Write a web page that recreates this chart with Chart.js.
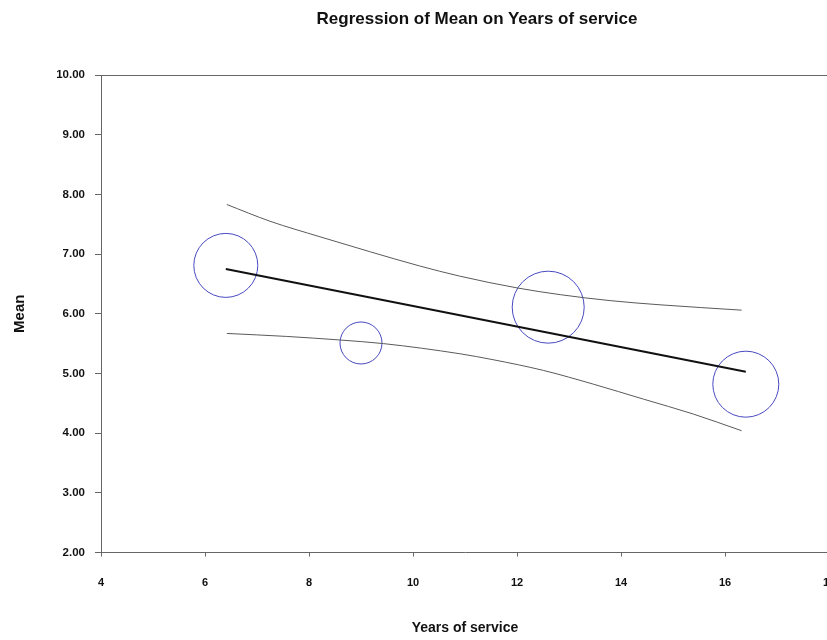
<!DOCTYPE html>
<html>
<head>
<meta charset="utf-8">
<script src="https://cdn.jsdelivr.net/npm/chart.js@4/dist/chart.umd.min.js"></script>
<style>
  html, body { margin: 0; padding: 0; background: #ffffff; overflow: hidden; width: 827px; height: 640px; }
  #wrap { position: relative; width: 827px; height: 640px; overflow: hidden; }
  #title { position: absolute; left: 0; width: 954px; top: 9px; text-align: center;
           font: bold 17px "Liberation Sans", Arial, sans-serif; color: #111; white-space: nowrap; }
  canvas { position: absolute; left: 0; top: 0; }
</style>
</head>
<body>
<div id="wrap">
  <canvas id="c" width="866" height="640" style="width:866px;height:640px"></canvas>
  <div id="title">Regression of Mean on Years of service</div>
</div>
<script>
// ---- data ----
const pointYears = [6.4, 9.0, 12.6, 16.4];
const pointMeans = [6.81, 5.51, 6.11, 4.82];
const pointSizes = [32, 21, 36, 33];

const fitYears = [6.4, 16.4];
const fitMeans = [6.75, 5.03];

const upperYears = [6.42, 7.25, 8.21, 9.17, 10.13, 10.90, 12.02, 12.83, 13.79, 14.75, 16.32];
const upperMeans = [7.83, 7.55, 7.29, 7.04, 6.80, 6.63, 6.43, 6.32, 6.22, 6.15, 6.06];

const lowerYears = [6.42, 7.57, 8.60, 9.43, 10.90, 11.54, 12.51, 13.47, 14.43, 15.39, 16.32];
const lowerMeans = [5.67, 5.62, 5.56, 5.50, 5.33, 5.23, 5.05, 4.82, 4.57, 4.32, 4.04];

const xTicks = [4, 6, 8, 10, 12, 14, 16, 18];
const yTicks = [2, 3, 4, 5, 6, 7, 8, 9, 10];

const xyPairs = (xs, ys) => xs.map((x, i) => ({ x: x, y: ys[i] }));

const FONT = '"Liberation Sans", Arial, sans-serif';

const topBorder = {
  id: 'topBorder',
  afterDraw(chart) {
    const { ctx, chartArea } = chart;
    ctx.save();
    ctx.strokeStyle = '#666666';
    ctx.lineWidth = 1;
    ctx.beginPath();
    ctx.moveTo(chartArea.left, Math.round(chartArea.top) + 0.5);
    ctx.lineTo(chartArea.right, Math.round(chartArea.top) + 0.5);
    ctx.stroke();
    ctx.restore();
  }
};

new Chart(document.getElementById('c'), {
  type: 'bubble',
  data: {
    datasets: [
      {
        type: 'line',
        data: xyPairs(upperYears, upperMeans),
        borderColor: '#5a5a5a',
        borderWidth: 1,
        pointRadius: 0,
        cubicInterpolationMode: 'monotone',
        fill: false
      },
      {
        type: 'line',
        data: xyPairs(lowerYears, lowerMeans),
        borderColor: '#5a5a5a',
        borderWidth: 1,
        pointRadius: 0,
        cubicInterpolationMode: 'monotone',
        fill: false
      },
      {
        type: 'line',
        data: xyPairs(fitYears, fitMeans),
        borderColor: '#111111',
        borderWidth: 2,
        pointRadius: 0,
        fill: false
      },
      {
        type: 'bubble',
        data: pointYears.map((x, i) => ({ x: x, y: pointMeans[i], r: pointSizes[i] })),
        backgroundColor: 'rgba(0,0,0,0)',
        borderColor: '#4848c0',
        borderWidth: 1,
        hoverBorderWidth: 1
      }
    ]
  },
  options: {
    responsive: false,
    animation: false,
    events: [],
    layout: { padding: { top: 75, left: 0, right: 0, bottom: 0 } },
    plugins: {
      legend: { display: false },
      tooltip: { enabled: false },
      title: { display: false }
    },
    scales: {
      x: {
        type: 'linear',
        min: 4,
        max: 18,
        afterBuildTicks(scale) { scale.ticks = xTicks.map(v => ({ value: v })); },
        afterFit(scale) { scale.height = 87.5; },
        grid: { display: true, drawOnChartArea: false, drawTicks: true, tickLength: 4, color: '#666666' },
        border: { display: true, color: '#666666', width: 1 },
        ticks: {
          padding: 20,
          maxRotation: 0,
          color: '#111111',
          font: { family: FONT, size: 11, weight: 'bold' },
          callback: v => String(v)
        },
        title: {
          display: true,
          text: 'Years of service',
          color: '#111111',
          font: { family: FONT, size: 14, weight: 'bold' },
          padding: { top: 0, bottom: 3 }
        }
      },
      y: {
        type: 'linear',
        min: 2,
        max: 10,
        afterBuildTicks(scale) { scale.ticks = yTicks.map(v => ({ value: v })); },
        afterFit(scale) { scale.width = 101; },
        grid: { display: true, drawOnChartArea: false, drawTicks: true, tickLength: 6, color: '#666666' },
        border: { display: true, color: '#666666', width: 1 },
        ticks: {
          padding: 10,
          color: '#111111',
          font: { family: FONT, size: 11.5, weight: 'bold' },
          callback: v => Number(v).toFixed(2)
        },
        title: {
          display: true,
          text: 'Mean',
          color: '#111111',
          font: { family: FONT, size: 15, weight: 'bold' },
          padding: { top: 11, bottom: 0 }
        }
      }
    }
  },
  plugins: [topBorder]
});
</script>
</body>
</html>
